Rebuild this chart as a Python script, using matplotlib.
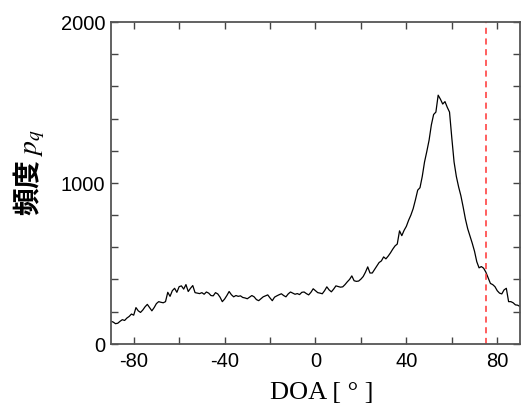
# DOA histogram, reproduced from figure

import matplotlib
matplotlib.use("Agg")
import matplotlib.pyplot as plt
from matplotlib.ticker import MultipleLocator

plt.rcParams['mathtext.fontset'] = 'stix'
plt.rcParams['axes.unicode_minus'] = False

# DOA angle in degrees, one bin per degree
doa = list(range(-90, 91))

# counts p_q
counts = [
    140, 135, 125, 128, 140, 150, 145, 160, 170, 185,   # -90 .. -81
    178, 225, 205, 195, 210, 230, 245, 225, 205, 225,   # -80 .. -71
    250, 262, 258, 255, 262, 320, 295, 330, 345, 320,   # -70 .. -61
    355, 360, 340, 368, 325, 345, 362, 318, 315, 312,   # -60 .. -51
    318, 308, 322, 315, 300, 298, 318, 310, 290, 262,   # -50 .. -41
    278, 300, 325, 305, 292, 300, 295, 298, 288, 285,   # -40 .. -31
    280, 290, 300, 292, 275, 268, 280, 292, 298, 304,   # -30 .. -21
    285, 268, 290, 298, 305, 311, 300, 292, 310, 322,   # -20 .. -11
    315, 308, 312, 306, 320, 322, 312, 304, 320, 342,   # -10 .. -1
    330, 318, 315, 311, 330, 354, 335, 323, 340, 360,   # 0 .. 9
    356, 352, 354, 368, 385, 400, 422, 392, 388, 390,   # 10 .. 19
    402, 418, 445, 478, 440, 440, 462, 485, 505, 515,   # 20 .. 29
    540, 528, 545, 565, 588, 608, 620, 702, 672, 705,   # 30 .. 39
    730, 768, 800, 840, 895, 955, 970, 1040, 1130, 1195,  # 40 .. 49
    1265, 1360, 1425, 1440, 1545, 1520, 1490, 1505, 1470, 1440,  # 50 .. 59
    1280, 1130, 1040, 975, 920, 850, 775, 715, 670, 625,  # 60 .. 69
    575, 510, 472, 480, 470, 445, 410, 375, 368, 355,   # 70 .. 79
    330, 315, 310, 335, 345, 262, 262, 255, 242, 240,   # 80 .. 89
    232,                                                # 90
]

# true source direction (red dashed marker)
marker_doa = 75

fig = plt.figure(figsize=(5.21, 4.10), dpi=100)
ax = fig.add_axes([0.213, 0.159, 0.785, 0.785])

ax.plot(doa, counts, color='black', linewidth=0.9)
ax.axvline(marker_doa, color='#ff3333', linestyle='--', linewidth=1.1, dashes=(4, 3))

ax.set_xlim(-90, 90)
ax.set_ylim(0, 2000)

ax.xaxis.set_major_locator(MultipleLocator(40))
ax.xaxis.set_minor_locator(MultipleLocator(20))
ax.yaxis.set_major_locator(MultipleLocator(1000))
ax.yaxis.set_minor_locator(MultipleLocator(200))

ax.tick_params(which='both', direction='in', top=True, right=True,
               color='#444444', width=1.0, length=5)
ax.tick_params(axis='x', which='major', pad=5)
ax.tick_params(axis='y', which='major', pad=4)

for lab in ax.get_xticklabels() + ax.get_yticklabels():
    lab.set_fontfamily('Liberation Sans')
    lab.set_fontsize(14.5)

for sp in ax.spines.values():
    sp.set_color('#555555')
    sp.set_linewidth(1.3)

ax.set_xlabel('DOA [ ° ]', family='Liberation Serif', fontsize=19)
ax.xaxis.set_label_coords(0.516, -0.115)
ax.set_ylabel('頻度 $p_q$', family=['Noto Sans CJK JP', 'DejaVu Sans'],
              fontweight='bold', fontsize=20)
ax.yaxis.set_label_coords(-0.157, 0.536)

fig.savefig('out.png', dpi=100)
